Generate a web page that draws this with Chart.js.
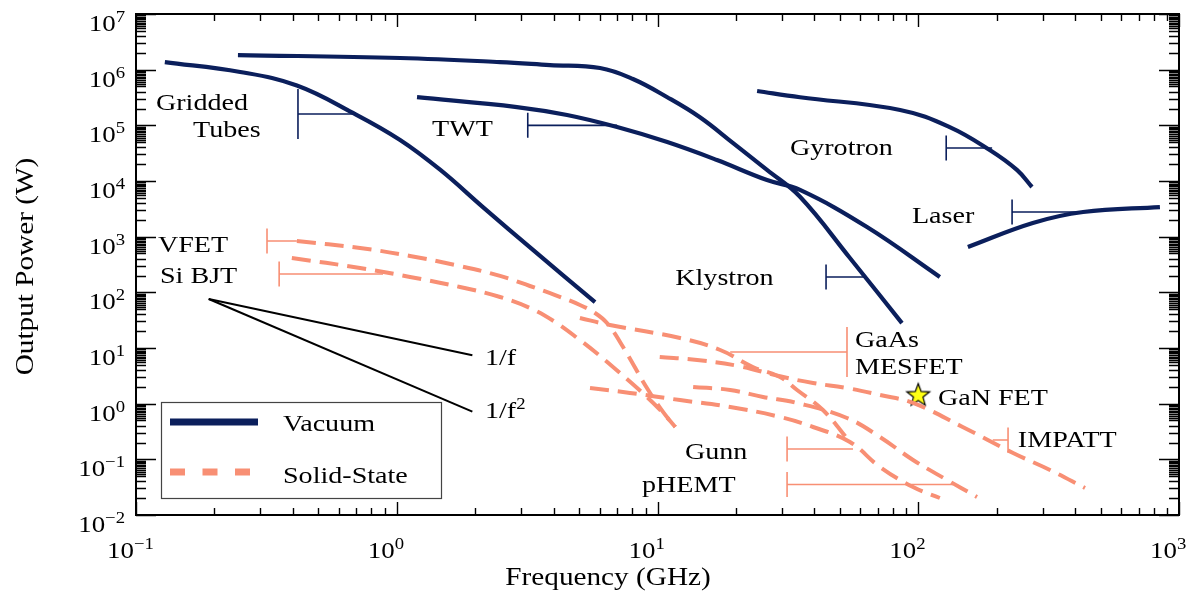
<!DOCTYPE html>
<html>
<head>
<meta charset="utf-8">
<script src="https://cdn.jsdelivr.net/npm/chart.js@4.4.1/dist/chart.umd.min.js"></script>
<style>
  html, body { margin: 0; padding: 0; background: #fff; }
</style>
</head>
<body>
<canvas id="chart" width="1195" height="596"></canvas>
<script>
// Vacuum devices: frequency (GHz) and output power (W)
const gridFreq = [0.129, 0.251, 0.414, 0.679, 1.03, 1.47, 2.14, 3.33, 5.76];
const gridPower = [1.37e6, 9.1e5, 5.2e5, 1.67e5, 5.46e4, 1.58e4, 3.4e3, 577, 67];

const klyFreq = [0.246, 1.03, 2.49, 3.87, 6.02, 8.05, 10.9, 14.5, 19.5, 26.3, 35.2, 54.7, 86.6];
const klyPower = [1.83e6, 1.62e6, 1.37e6, 1.21e6, 1.07e6, 6.8e5, 3.2e5, 1.41e5, 4.8e4, 1.58e4, 5.2e3, 414, 28];

const twtFreq = [1.196, 2.89, 4.5, 7.0, 10.9, 16.9, 26.3, 35.2, 63.6, 121];
const twtPower = [3.2e5, 2.13e5, 1.53e5, 9.3e4, 5.0e4, 2.38e4, 1.04e4, 6.9e3, 1.49e3, 189];

const gyroFreq = [24.1, 35.2, 85.2, 132, 188, 239, 273];
const gyroPower = [4.14e5, 3.2e5, 1.89e5, 9.3e4, 3.6e4, 1.58e4, 7.8e3];

const laserFreq = [155, 275, 429, 845];
const laserPower = [653, 1760, 2770, 3400];

// Solid-state devices
const vfetFreq = [0.414, 0.723, 1.124, 1.748, 2.49, 3.24, 4.05, 5.04, 5.76, 6.40, 7.38, 9.11, 10.5, 11.7];
const vfetPower = [836, 626, 450, 297, 197, 130, 89.5, 59.3, 42.6, 28.1, 10.4, 1.91, 0.71, 0.381];

const bjtFreq = [0.396, 0.723, 1.124, 1.748, 2.49, 3.24, 4.05, 5.04, 6.02, 7.18, 9.11, 10.5, 11.7];
const bjtPower = [414, 274, 189, 125, 82.5, 52.4, 29.3, 13.9, 7.19, 3.56, 1.32, 0.68, 0.381];

const mesfetFreq = [5.04, 6.57, 12.2, 17.4, 23.2, 29.5, 34.3, 43.1, 54.7];
const mesfetPower = [34.6, 25.9, 15.1, 9.21, 4.56, 3.02, 1.76, 0.77, 0.205];

const gunnFreq = [5.51, 7.84, 12.2, 19.0, 29.5, 39.5, 54.7, 71.3, 95.5, 121];
const gunnPower = [1.91, 1.56, 1.16, 0.872, 0.577, 0.381, 0.205, 0.073, 0.0318, 0.0202];

const impattFreq = [10.2, 14.2, 20.7, 29.5, 39.5, 53.3, 71.3, 95.5, 148, 231, 320, 436];
const impattPower = [6.9, 6.1, 4.7, 3.1, 2.35, 1.91, 1.43, 1.03, 0.381, 0.13, 0.0644, 0.0306];

const phemtFreq = [13.7, 19.0, 25.4, 34.3, 53.3, 71.3, 95.5, 129, 168];
const phemtPower = [2.0, 1.76, 1.32, 1.03, 0.553, 0.252, 0.0975, 0.0426, 0.0211];

const ganFreq = [100];
const ganPower = [1.4];

// Slope guides
const slopeFreq = [0.19, 1.95];
const invFPower = [76, 7.4];
const invF2Power = [76, 0.72];

// Axis ticks
const xDecades = [0.1, 1, 10, 100, 1000];
const yDecades = [1e-2, 1e-1, 1, 10, 1e2, 1e3, 1e4, 1e5, 1e6, 1e7];
const xMinor = [2, 3, 4, 5, 6, 7, 8, 9];
const yMinor = [2, 3, 4, 5, 5.5, 6, 6.5, 7, 7.5, 8, 8.5, 9, 9.5];

// Label brackets: vertical bar at `at`, arm to `to`, at power `level`
const vacuumBrackets = [
  { at: 0.418, to: 0.679, level: 1.6e5, rows: 2 },
  { at: 3.18, to: 7.0, level: 1.0e5, rows: 1 },
  { at: 44.3, to: 62.5, level: 189, rows: 1 },
  { at: 128, to: 192, level: 3.92e4, rows: 1 },
  { at: 229, to: 417, level: 2770, rows: 1 }
];
const solidBrackets = [
  { at: 0.318, to: 0.414, level: 836, rows: 1 },
  { at: 0.354, to: 0.886, level: 214, rows: 1 },
  { at: 53.3, to: 19.0, level: 8.48, rows: 2 },
  { at: 31.4, to: 56.2, level: 0.153, rows: 1 },
  { at: 31.4, to: 136, level: 0.0354, rows: 1 },
  { at: 221, to: 193, level: 0.223, rows: 1 }
];

// Device names, anchored at left/baseline in data units
const deviceLabels = [
  { text: "Gridded", f: 0.1193, p: 1.886e5 },
  { text: "Tubes", f: 0.1654, p: 6.18e4 },
  { text: "TWT", f: 1.365, p: 6.43e4 },
  { text: "Klystron", f: 11.7, p: 135 },
  { text: "Gyrotron", f: 32.2, p: 2.93e4 },
  { text: "Laser", f: 94.6, p: 1760 },
  { text: "VFET", f: 0.1214, p: 531 },
  { text: "Si BJT", f: 0.1236, p: 147 },
  { text: "GaAs", f: 57.2, p: 10.4 },
  { text: "MESFET", f: 57.2, p: 3.41 },
  { text: "GaN FET", f: 119, p: 0.947 },
  { text: "IMPATT", f: 241, p: 0.167 },
  { text: "Gunn", f: 12.75, p: 0.101 },
  { text: "pHEMT", f: 8.72, p: 0.026 },
  { text: "1/f", f: 2.18, p: 4.95 },
  { text: "1/f", sup: "2", f: 2.18, p: 0.553 }
];

const NAVY = "#0b1f5c";
const SALMON = "#f88f74";
const SERIF = '"Liberation Serif", "Times New Roman", serif';
const SX = 1.17; // wide serif look

function pairs(xs, ys) {
  return xs.map((x, i) => ({ x, y: ys[i] }));
}

function vacuum(label, xs, ys) {
  return {
    label,
    data: pairs(xs, ys),
    borderColor: NAVY,
    borderWidth: 4.2,
    pointRadius: 0,
    tension: 0.4,
    borderCapStyle: "butt",
    borderJoinStyle: "round"
  };
}

function solid(label, xs, ys) {
  return {
    label,
    data: pairs(xs, ys),
    borderColor: SALMON,
    borderWidth: 4,
    borderDash: [19, 9],
    pointRadius: 0,
    tension: 0.4,
    borderCapStyle: "butt"
  };
}

function guide(label, xs, ys) {
  return {
    label,
    data: pairs(xs, ys),
    borderColor: "#000",
    borderWidth: 2,
    pointRadius: 0,
    tension: 0
  };
}

function starImage() {
  const c = document.createElement("canvas");
  c.width = 30;
  c.height = 30;
  const g = c.getContext("2d");
  g.beginPath();
  for (let i = 0; i < 10; i++) {
    const r = i % 2 === 0 ? 12 : 5;
    const a = -Math.PI / 2 + (i * Math.PI) / 5;
    const px = 15 + r * Math.cos(a);
    const py = 15 + r * Math.sin(a);
    if (i === 0) g.moveTo(px, py);
    else g.lineTo(px, py);
  }
  g.closePath();
  g.fillStyle = "#ffff14";
  g.fill();
  g.lineWidth = 1.2;
  g.strokeStyle = "#000";
  g.stroke();
  return c;
}

function wideText(ctx, str, x, y, size, align) {
  ctx.font = `${size}px ${SERIF}`;
  const w = ctx.measureText(str).width * SX;
  const left = align === "right" ? x - w : align === "center" ? x - w / 2 : x;
  ctx.save();
  ctx.translate(left, y);
  ctx.scale(SX, 1);
  ctx.textAlign = "left";
  ctx.textBaseline = "alphabetic";
  ctx.fillText(str, 0, 0);
  ctx.restore();
  return w;
}

function wideWidth(ctx, str, size) {
  ctx.font = `${size}px ${SERIF}`;
  return ctx.measureText(str).width * SX;
}

function expText(exp) {
  return exp < 0 ? "\u2212" + -exp : String(exp);
}

const decorations = {
  id: "decorations",
  afterDatasetsDraw(chart) {
    const { ctx, chartArea: area, scales } = chart;
    const xs = scales.x;
    const ys = scales.y;
    ctx.save();
    ctx.fillStyle = "#000";

    // brackets
    const drawBracket = (b, color) => {
      const bx = xs.getPixelForValue(b.at);
      const ex = xs.getPixelForValue(b.to);
      const by = ys.getPixelForValue(b.level);
      const half = b.rows === 2 ? 25 : 12.5;
      ctx.strokeStyle = color;
      ctx.lineWidth = 1.6;
      ctx.beginPath();
      ctx.moveTo(bx, by - half);
      ctx.lineTo(bx, by + half);
      ctx.moveTo(bx, by);
      ctx.lineTo(ex, by);
      ctx.stroke();
    };
    vacuumBrackets.forEach((b) => drawBracket(b, NAVY));
    solidBrackets.forEach((b) => drawBracket(b, SALMON));

    // device labels
    ctx.fillStyle = "#000";
    deviceLabels.forEach((l) => {
      const lx = xs.getPixelForValue(l.f);
      const ly = ys.getPixelForValue(l.p);
      const w = wideText(ctx, l.text, lx, ly, 24, "left");
      if (l.sup) wideText(ctx, l.sup, lx + w, ly - 9, 16, "left");
    });

    // ticks, inward on all four sides
    ctx.strokeStyle = "#000";
    ctx.lineWidth = 1.4;
    ctx.beginPath();
    xDecades.forEach((d) => {
      [1].concat(xMinor).forEach((m) => {
        const v = d * m;
        if (v > 1000) return;
        const px = Math.round(xs.getPixelForValue(v)) + 0.5;
        const len = m === 1 ? 13 : 7;
        ctx.moveTo(px, area.bottom);
        ctx.lineTo(px, area.bottom - len);
        ctx.moveTo(px, area.top);
        ctx.lineTo(px, area.top + len);
      });
    });
    yDecades.forEach((d) => {
      [1].concat(yMinor).forEach((m) => {
        const v = d * m;
        if (v > 1e7) return;
        const py = Math.round(ys.getPixelForValue(v)) + 0.5;
        const len = m === 1 ? 20 : 10;
        ctx.moveTo(area.left, py);
        ctx.lineTo(area.left + len, py);
        ctx.moveTo(area.right, py);
        ctx.lineTo(area.right - len, py);
      });
    });
    ctx.stroke();

    // frame
    ctx.lineWidth = 2;
    ctx.strokeRect(area.left, area.top, area.right - area.left, area.bottom - area.top);

    // tick labels
    const baseSize = 23;
    const supSize = 16;
    yDecades.forEach((d) => {
      const exp = Math.round(Math.log10(d));
      const py = ys.getPixelForValue(d);
      const sup = expText(exp);
      const wSup = wideWidth(ctx, sup, supSize);
      const wBase = wideWidth(ctx, "10", baseSize);
      const right = area.left - 11;
      wideText(ctx, "10", right - wSup - wBase, py + 17, baseSize, "left");
      wideText(ctx, sup, right - wSup, py + 8, supSize, "left");
    });
    xDecades.forEach((d) => {
      const exp = Math.round(Math.log10(d));
      const px = xs.getPixelForValue(d);
      wideText(ctx, "10", px - 2, area.bottom + 43, baseSize, "right");
      wideText(ctx, expText(exp), px - 2, area.bottom + 34, supSize, "left");
    });

    // axis titles
    wideText(ctx, "Frequency (GHz)", area.left + 472, area.bottom + 70, 25, "center");
    ctx.save();
    ctx.translate(area.left - 103, (area.top + area.bottom) / 2 + 2);
    ctx.rotate(-Math.PI / 2);
    wideText(ctx, "Output Power (W)", 0, 0, 25, "center");
    ctx.restore();

    // legend box
    const lx = area.left + 25;
    const ly = area.top + 388;
    ctx.fillStyle = "#fff";
    ctx.fillRect(lx, ly, 280, 96);
    ctx.strokeStyle = "#444";
    ctx.lineWidth = 1.2;
    ctx.strokeRect(lx + 0.5, ly + 0.5, 280, 96);
    ctx.lineCap = "butt";
    ctx.lineWidth = 7;
    ctx.strokeStyle = NAVY;
    ctx.beginPath();
    ctx.moveTo(lx + 9, ly + 20);
    ctx.lineTo(lx + 97, ly + 20);
    ctx.stroke();
    ctx.strokeStyle = SALMON;
    ctx.setLineDash([15, 17.5]);
    ctx.beginPath();
    ctx.moveTo(lx + 9, ly + 70);
    ctx.lineTo(lx + 97, ly + 70);
    ctx.stroke();
    ctx.setLineDash([]);
    ctx.fillStyle = "#000";
    wideText(ctx, "Vacuum", lx + 122, ly + 29, 24, "left");
    wideText(ctx, "Solid-State", lx + 122, ly + 81, 24, "left");

    ctx.restore();
  }
};

new Chart(document.getElementById("chart"), {
  type: "line",
  data: {
    datasets: [
      solid("VFET", vfetFreq, vfetPower),
      solid("Si BJT", bjtFreq, bjtPower),
      solid("GaAs MESFET", mesfetFreq, mesfetPower),
      solid("Gunn", gunnFreq, gunnPower),
      solid("IMPATT", impattFreq, impattPower),
      solid("pHEMT", phemtFreq, phemtPower),
      vacuum("Gridded Tubes", gridFreq, gridPower),
      vacuum("Klystron", klyFreq, klyPower),
      vacuum("TWT", twtFreq, twtPower),
      vacuum("Gyrotron", gyroFreq, gyroPower),
      vacuum("Laser", laserFreq, laserPower),
      guide("1/f", slopeFreq, invFPower),
      guide("1/f2", slopeFreq, invF2Power),
      {
        label: "GaN FET",
        data: pairs(ganFreq, ganPower),
        showLine: false,
        pointStyle: starImage(),
        pointRadius: 12
      }
    ]
  },
  options: {
    responsive: false,
    animation: false,
    events: [],
    devicePixelRatio: 1,
    layout: { padding: { left: 136, top: 14, right: 16, bottom: 81 } },
    plugins: {
      legend: { display: false },
      tooltip: { enabled: false }
    },
    scales: {
      x: { type: "logarithmic", min: 0.1, max: 1000, display: false },
      y: { type: "logarithmic", min: 0.01, max: 1e7, display: false }
    }
  },
  plugins: [decorations]
});
</script>
</body>
</html>
